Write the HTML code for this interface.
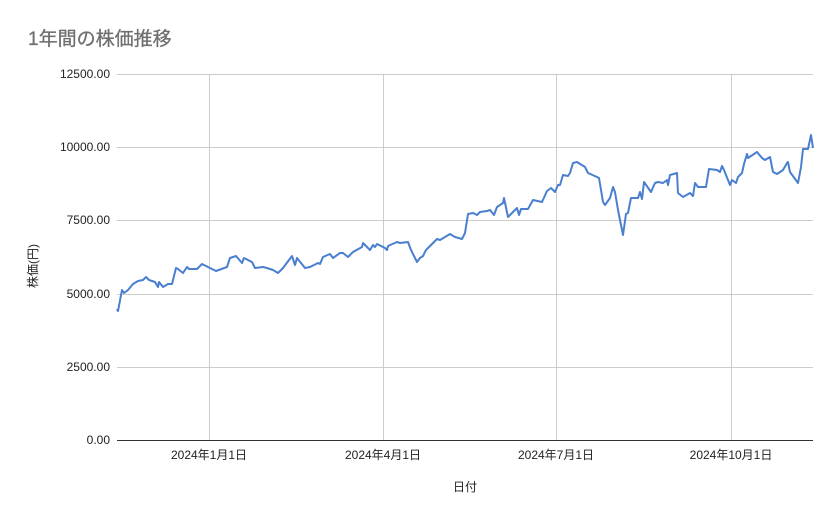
<!DOCTYPE html>
<html><head><meta charset="utf-8"><style>
html,body{margin:0;padding:0;background:#fff;}
svg text{font-family:"Liberation Sans","Noto Sans CJK JP",sans-serif;}
</style></head><body>
<svg width="839" height="519" xmlns="http://www.w3.org/2000/svg">
<rect width="839" height="519" fill="#fff"/>
<text x="28" y="45" font-size="19" fill="#6f6f6f" stroke="#6f6f6f" stroke-width="0.3">1年間の株価推移</text>
<g stroke="#cccccc" stroke-width="1">
<line x1="117" y1="74.5" x2="813" y2="74.5"/>
<line x1="117" y1="147.5" x2="813" y2="147.5"/>
<line x1="117" y1="220.5" x2="813" y2="220.5"/>
<line x1="117" y1="294.5" x2="813" y2="294.5"/>
<line x1="117" y1="367.5" x2="813" y2="367.5"/>
<line x1="209.5" y1="74" x2="209.5" y2="440"/>
<line x1="383.5" y1="74" x2="383.5" y2="440"/>
<line x1="556.5" y1="74" x2="556.5" y2="440"/>
<line x1="731.5" y1="74" x2="731.5" y2="440"/>
</g>
<line x1="117" y1="440.5" x2="813" y2="440.5" stroke="#333" stroke-width="1"/>
<g font-size="12" fill="#222" text-anchor="end">
<text x="110" y="78">12500.00</text>
<text x="110" y="151">10000.00</text>
<text x="110" y="224">7500.00</text>
<text x="110" y="298">5000.00</text>
<text x="110" y="371">2500.00</text>
<text x="110" y="444">0.00</text>
</g>
<g font-size="12" fill="#222" text-anchor="middle">
<text x="209" y="459">2024年1月1日</text>
<text x="383" y="459">2024年4月1日</text>
<text x="556" y="459">2024年7月1日</text>
<text x="731" y="459">2024年10月1日</text>
<text x="465" y="491">日付</text>
</g>
<text transform="translate(37,266) rotate(-90)" font-size="12" fill="#222" text-anchor="middle">株価(円)</text>
<polyline fill="none" stroke="#4a7fcf" stroke-width="2" stroke-linejoin="round" points="117,309 118,311 122,290 124,293 128,290 133,284 138,281 143,280 146,277 149,280 155,282 158,287 159,282 163,287 168,284 172,284 176,268 178,269 183,273 187,267 189,269 197,269 202,264 210,268 216,271 227,267 230,258 236,256 242,263 244,258 252,262 255,268 263,267 267,268 273,270 278,273 283,268 292,256 295,265 297,258 305,268 310,267 318,263 320,264 323,257 330,254 333,258 340,253 343,253 348,257 353,252 362,247 363,243 370,250 373,245 375,247 377,244 385,248 387,250 388,246 397,242 400,243 408,242 411,250 417,262 420,258 423,256 426,250 428,248 437,239 440,240 450,234 455,237 462,239 465,233 468,214 473,213 477,215 480,212 487,211 490,210 494,215 497,207 503,203 504,198 508,217 517,208 519,215 521,209 528,209 533,200 542,202 547,191 551,188 555,192 558,185 560,185 563,175 568,176 570,173 573,163 577,162 585,167 588,173 597,177 599,178 603,202 605,205 610,198 613,187 615,192 618,210 623,235 626,214 628,213 631,198 638,198 640,192 642,199 644,182 651,192 655,183 658,182 663,183 667,180 668,185 670,175 677,173 678,193 683,197 690,193 693,196 695,183 698,187 706,187 709,169 717,170 720,172 722,166 724,170 730,185 732,180 736,183 738,177 742,173 744,164 747,154 748,158 757,152 762,158 765,160 770,157 773,172 777,174 783,170 787,163 788,162 790,172 798,183 801,167 803,149 808,149 811,135 813,148"/>
</svg>
</body></html>
